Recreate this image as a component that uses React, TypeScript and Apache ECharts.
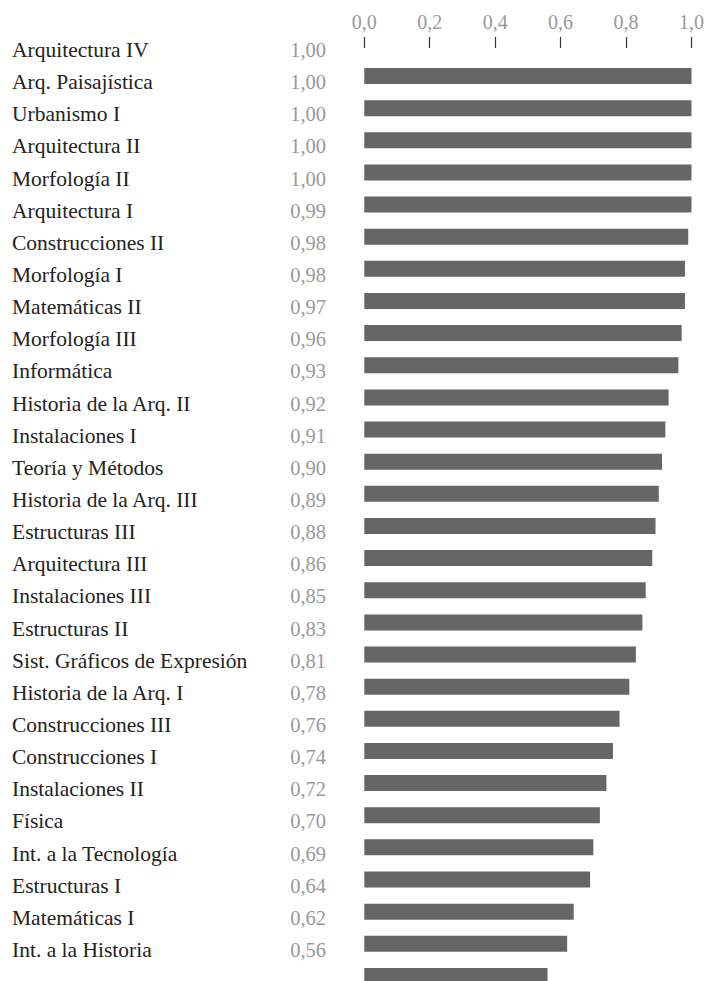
import React, { useEffect, useRef } from "react";
import * as echarts from "echarts";

const categories: string[] = [
  "Arquitectura IV",
  "Arq. Paisajística",
  "Urbanismo I",
  "Arquitectura II",
  "Morfología II",
  "Arquitectura I",
  "Construcciones II",
  "Morfología I",
  "Matemáticas II",
  "Morfología III",
  "Informática",
  "Historia de la Arq. II",
  "Instalaciones I",
  "Teoría y Métodos",
  "Historia de la Arq. III",
  "Estructuras III",
  "Arquitectura III",
  "Instalaciones III",
  "Estructuras II",
  "Sist. Gráficos de Expresión",
  "Historia de la Arq. I",
  "Construcciones III",
  "Construcciones I",
  "Instalaciones II",
  "Física",
  "Int. a la Tecnología",
  "Estructuras I",
  "Matemáticas I",
  "Int. a la Historia",
];

const values: number[] = [
  1.0, 1.0, 1.0, 1.0, 1.0, 0.99, 0.98, 0.98, 0.97, 0.96, 0.93, 0.92, 0.91, 0.9,
  0.89, 0.88, 0.86, 0.85, 0.83, 0.81, 0.78, 0.76, 0.74, 0.72, 0.7, 0.69, 0.64,
  0.62, 0.56,
];

const xTicks: number[] = [0, 0.2, 0.4, 0.6, 0.8, 1.0];

const FONT = "'Liberation Serif', 'DejaVu Serif', serif";

export default function App() {
  const ref = useRef<HTMLDivElement>(null);

  useEffect(() => {
    document.body.style.margin = "0";
    document.body.style.overflow = "hidden";
    document.documentElement.style.overflow = "hidden";
    if (!ref.current) return;
    const chart = echarts.init(ref.current, undefined, { renderer: "svg" });
    const rowH = 32.14;
    const n = categories.length;
    const valueLabels = values.map((v) => v.toFixed(2).replace(".", ","));

    chart.setOption({
      animation: false,
      grid: [
        {
          left: 364.3,
          width: 329,
          top: 76 - rowH / 2,
          height: rowH * n,
          containLabel: false,
        },
        {
          left: 330,
          width: 20,
          top: 50 - rowH / 2,
          height: rowH * n,
          containLabel: false,
        },
      ],
      xAxis: [
        {
          gridIndex: 0,
          type: "value",
          position: "top",
          min: xTicks[0],
          max: xTicks[xTicks.length - 1],
          interval: 0.2,
          offset: 12,
          axisLine: { show: false },
          axisTick: {
            show: true,
            length: 11,
            lineStyle: { color: "#333", width: 1.2 },
          },
          splitLine: { show: false },
          axisLabel: {
            show: true,
            margin: 16,
            color: "#999",
            fontFamily: FONT,
            fontSize: 20,
            formatter: (v: number) => v.toFixed(1).replace(".", ","),
          },
        },
        {
          gridIndex: 1,
          type: "value",
          show: false,
        },
      ],
      yAxis: [
        {
          gridIndex: 0,
          type: "category",
          data: categories,
          inverse: true,
          axisLine: { show: false },
          axisTick: { show: false },
          axisLabel: { show: false },
          splitLine: { show: false },
        },
        {
          gridIndex: 1,
          type: "category",
          data: categories,
          inverse: true,
          position: "left",
          axisLine: { show: false },
          axisTick: { show: false },
          splitLine: { show: false },
          axisLabel: {
            show: true,
            margin: 318,
            align: "left",
            color: "#222",
            fontFamily: FONT,
            fontSize: 21.5,
            interval: 0,
          },
        },
        {
          gridIndex: 1,
          type: "category",
          data: valueLabels,
          inverse: true,
          position: "left",
          axisLine: { show: false },
          axisTick: { show: false },
          splitLine: { show: false },
          axisLabel: {
            show: true,
            margin: 4,
            align: "right",
            color: "#999",
            fontFamily: FONT,
            fontSize: 20.5,
            interval: 0,
          },
        },
      ],
      series: [
        {
          type: "bar",
          xAxisIndex: 0,
          yAxisIndex: 0,
          data: values,
          barWidth: 16,
          itemStyle: { color: "#666666" },
          silent: true,
        },
      ],
    });

    return () => {
      chart.dispose();
    };
  }, []);

  return <div ref={ref} style={{ width: 707, height: 1000 }} />;
}
